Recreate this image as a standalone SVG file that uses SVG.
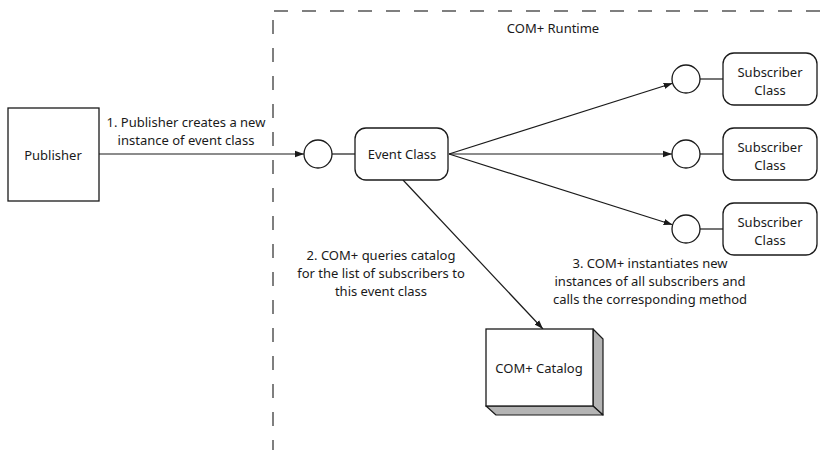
<svg xmlns="http://www.w3.org/2000/svg" width="829" height="450" viewBox="0 0 829 450">
<defs>
<style>
text{font-family:"Noto Sans","Liberation Sans",sans-serif;font-size:13px;fill:#1a1a1a;text-anchor:middle}
.box{fill:#fff;stroke:#1a1a1a;stroke-width:1.3}
.line{stroke:#1a1a1a;stroke-width:1.2;fill:none}
.dash{stroke:#555;stroke-width:1.5;fill:none;stroke-dasharray:14 14}
.side{fill:#b4b4b4;stroke:#1a1a1a;stroke-width:1.2;stroke-linejoin:round}
</style>
<marker id="arr" viewBox="0 0 10 10" refX="10" refY="5" markerWidth="9" markerHeight="9" markerUnits="userSpaceOnUse" orient="auto">
<path d="M0,1.5 L10,5 L0,8.5 Z" fill="#1a1a1a"/>
</marker>
</defs>
<g id="runtime-boundary">
<path class="dash" d="M274,11 H829"/>
<path class="dash" d="M273,20 V450"/>
<text x="553" y="33">COM+ Runtime</text>
</g>
<g id="connectors">
<line class="line" x1="99" y1="154" x2="304" y2="154" marker-end="url(#arr)"/>
<line class="line" x1="332" y1="154" x2="355" y2="154"/>
<line class="line" x1="449" y1="154" x2="672.6" y2="83.2" marker-end="url(#arr)"/>
<line class="line" x1="449" y1="154" x2="672" y2="154" marker-end="url(#arr)"/>
<line class="line" x1="449" y1="154" x2="672.6" y2="224.8" marker-end="url(#arr)"/>
<line class="line" x1="700" y1="79" x2="723" y2="79"/>
<line class="line" x1="700" y1="154" x2="723" y2="154"/>
<line class="line" x1="700" y1="229" x2="723" y2="229"/>
<line class="line" x1="403" y1="180" x2="543" y2="329" marker-end="url(#arr)"/>
<text x="186" y="127">1. Publisher creates a new</text>
<text x="186" y="145">instance of event class</text>
<text x="381" y="260">2. COM+ queries catalog</text>
<text x="381" y="278">for the list of subscribers to</text>
<text x="381" y="296">this event class</text>
<text x="650" y="268">3. COM+ instantiates new</text>
<text x="650" y="286">instances of all subscribers and</text>
<text x="650" y="304">calls the corresponding method</text>
</g>
<g id="publisher">
<rect class="box" x="8" y="108" width="91" height="93"/>
<text x="53" y="160">Publisher</text>
</g>
<g id="event-class-interface">
<circle class="box" cx="318" cy="154" r="14"/>
</g>
<g id="event-class">
<rect class="box" x="355" y="128" width="93" height="52" rx="11"/>
<text x="402" y="159">Event Class</text>
</g>
<g id="subscriber-1">
<circle class="box" cx="686" cy="79" r="14"/>
<rect class="box" x="723" y="53" width="94" height="52" rx="11"/>
<text x="770" y="77">Subscriber</text>
<text x="770" y="95">Class</text>
</g>
<g id="subscriber-2">
<circle class="box" cx="686" cy="154" r="14"/>
<rect class="box" x="723" y="128" width="94" height="52" rx="11"/>
<text x="770" y="152">Subscriber</text>
<text x="770" y="170">Class</text>
</g>
<g id="subscriber-3">
<circle class="box" cx="686" cy="229" r="14"/>
<rect class="box" x="723" y="203" width="94" height="52" rx="11"/>
<text x="770" y="227">Subscriber</text>
<text x="770" y="245">Class</text>
</g>
<g id="com-catalog">
<path class="side" d="M593,329 L603,339 L603,415 L593,406 Z"/>
<path class="side" d="M486,406 L593,406 L603,415 L496,415 Z"/>
<rect class="box" x="486" y="329" width="107" height="77"/>
<text x="539" y="373">COM+ Catalog</text>
</g>
</svg>
